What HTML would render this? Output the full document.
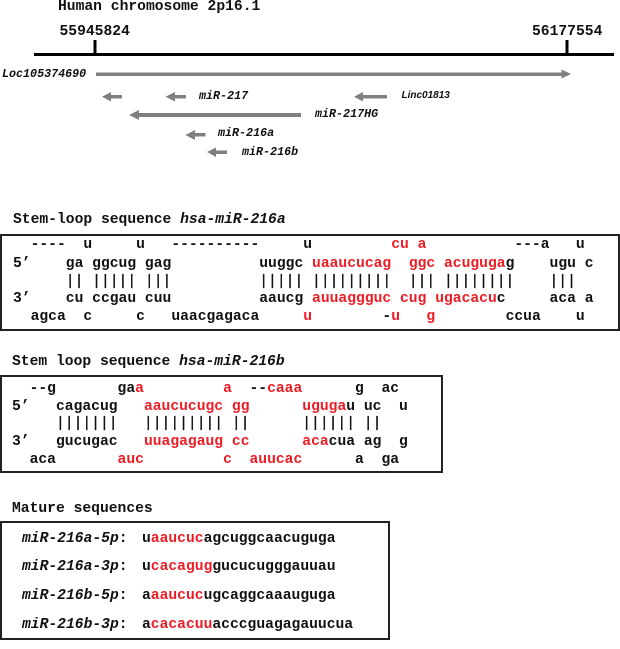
<!DOCTYPE html>
<html>
<head>
<meta charset="utf-8">
<style>
html,body{margin:0;padding:0;background:#fff;}
#p{position:relative;width:620px;height:649px;overflow:hidden;background:#fff;font-family:"Liberation Mono",monospace;font-size:14.67px;font-weight:bold;color:#111;filter:blur(0.3px);}
.t{position:absolute;white-space:pre;line-height:16px;margin:0;}
.s{font-size:11.7px;font-style:italic;}
.n{font-weight:normal;-webkit-text-stroke:0.35px #111;}
i{font-style:italic;}
b{color:#ee1c25;font-weight:bold;}
.box{position:absolute;box-sizing:border-box;border:2px solid #222;background:transparent;}
svg{position:absolute;left:0;top:0;}
</style>
</head>
<body>
<div id="p">
<svg width="620" height="649" viewBox="0 0 620 649">
<rect x="34" y="53" width="580" height="3" fill="#000"/>
<rect x="93.5" y="40" width="3" height="14" fill="#000"/>
<rect x="565.5" y="40" width="3" height="14" fill="#000"/>
<g fill="#7f7f7f">
<rect x="96" y="72.5" width="466" height="3.5"/><polygon points="571,74 561.5,69.5 561.5,78.5"/>
<rect x="110" y="95" width="12" height="3.5"/><polygon points="102,96.7 111,92 111,101.5"/>
<rect x="174" y="95" width="12" height="3.5"/><polygon points="165.5,96.7 175,92 175,101.5"/>
<rect x="362" y="95" width="25" height="3.5"/><polygon points="354,96.7 363,92 363,101.5"/>
<rect x="138" y="113" width="163" height="4"/><polygon points="129,115 139,110 139,120"/>
<rect x="194" y="133" width="11.5" height="3.5"/><polygon points="185.5,135 195,130 195,140"/>
<rect x="215" y="150.5" width="12" height="3.5"/><polygon points="207,152 216,147.5 216,157"/>
</g>
</svg>

<div class="t" style="left:58px;top:-1px">Human chromosome 2p16.1</div>
<div class="t" style="left:59.5px;top:24px">55945824</div>
<div class="t" style="left:532px;top:24px">56177554</div>

<div class="t s" style="left:2px;top:66px">Loc105374690</div>
<div class="t s" style="left:199px;top:88px">miR-217</div>
<div class="t" style="left:401.5px;top:88px;font-family:'Liberation Sans',sans-serif;font-size:10px;font-style:italic">Linc01813</div>
<div class="t s" style="left:315px;top:106px">miR-217HG</div>
<div class="t s" style="left:218px;top:125px">miR-216a</div>
<div class="t s" style="left:242px;top:144px">miR-216b</div>

<div class="t" style="left:13px;top:212px">Stem-loop sequence <i>hsa-miR-216a</i></div>
<div class="box" style="left:0;top:234px;width:620px;height:97px"></div>
<div class="t" style="left:13px;top:237px">  ----  u     u   ----------     u         <b>cu a</b>          ---a   u</div>
<div class="t" style="left:13px;top:256px">5’    ga ggcug gag          uuggc <b>uaaucucag</b>  <b>ggc</b> <b>acuguga</b>g    ugu c</div>
<div class="t n" style="left:13px;top:274px">      || ||||| |||          ||||| |||||||||  ||| ||||||||    |||</div>
<div class="t" style="left:13px;top:291px">3’    cu ccgau cuu          aaucg <b>auuaggguc</b> <b>cug</b> <b>ugacacu</b>c     aca a</div>
<div class="t" style="left:13px;top:309px">  agca  c     c   uaacgagaca     <b>u</b>        -<b>u</b>   <b>g</b>        ccua    u</div>

<div class="t" style="left:12px;top:354px">Stem loop sequence <i>hsa-miR-216b</i></div>
<div class="box" style="left:0;top:375px;width:443px;height:98px"></div>
<div class="t" style="left:12px;top:381px">  --g       ga<b>a</b>         <b>a</b>  --<b>caaa</b>      g  ac</div>
<div class="t" style="left:12px;top:399px">5’   cagacug   <b>aaucucugc</b> <b>gg</b>      <b>ugug</b><b>a</b>u uc  u</div>
<div class="t n" style="left:12px;top:416px">     |||||||   ||||||||| ||      |||||| ||</div>
<div class="t" style="left:12px;top:434px">3’   gucugac   <b>uuagagaug</b> <b>cc</b>      <b>aca</b>cua ag  g</div>
<div class="t" style="left:12px;top:452px">  aca       <b>auc</b>         <b>c</b>  <b>auucac</b>      a  ga</div>

<div class="t" style="left:12px;top:501px">Mature sequences</div>
<div class="box" style="left:0;top:521px;width:390px;height:119px"></div>
<div class="t" style="left:22px;top:531px"><i>miR-216a-5p</i>:</div>
<div class="t" style="left:142px;top:531px">u<b>aaucuc</b>agcuggcaacuguga</div>
<div class="t" style="left:22px;top:559px"><i>miR-216a-3p</i>:</div>
<div class="t" style="left:142px;top:559px">u<b>cacagug</b>gucucugggauuau</div>
<div class="t" style="left:22px;top:588px"><i>miR-216b-5p</i>:</div>
<div class="t" style="left:142px;top:588px">a<b>aaucuc</b>ugcaggcaaauguga</div>
<div class="t" style="left:22px;top:617px"><i>miR-216b-3p</i>:</div>
<div class="t" style="left:142px;top:617px">a<b>cacacuu</b>acccguagagauucua</div>
</div>
</body>
</html>
